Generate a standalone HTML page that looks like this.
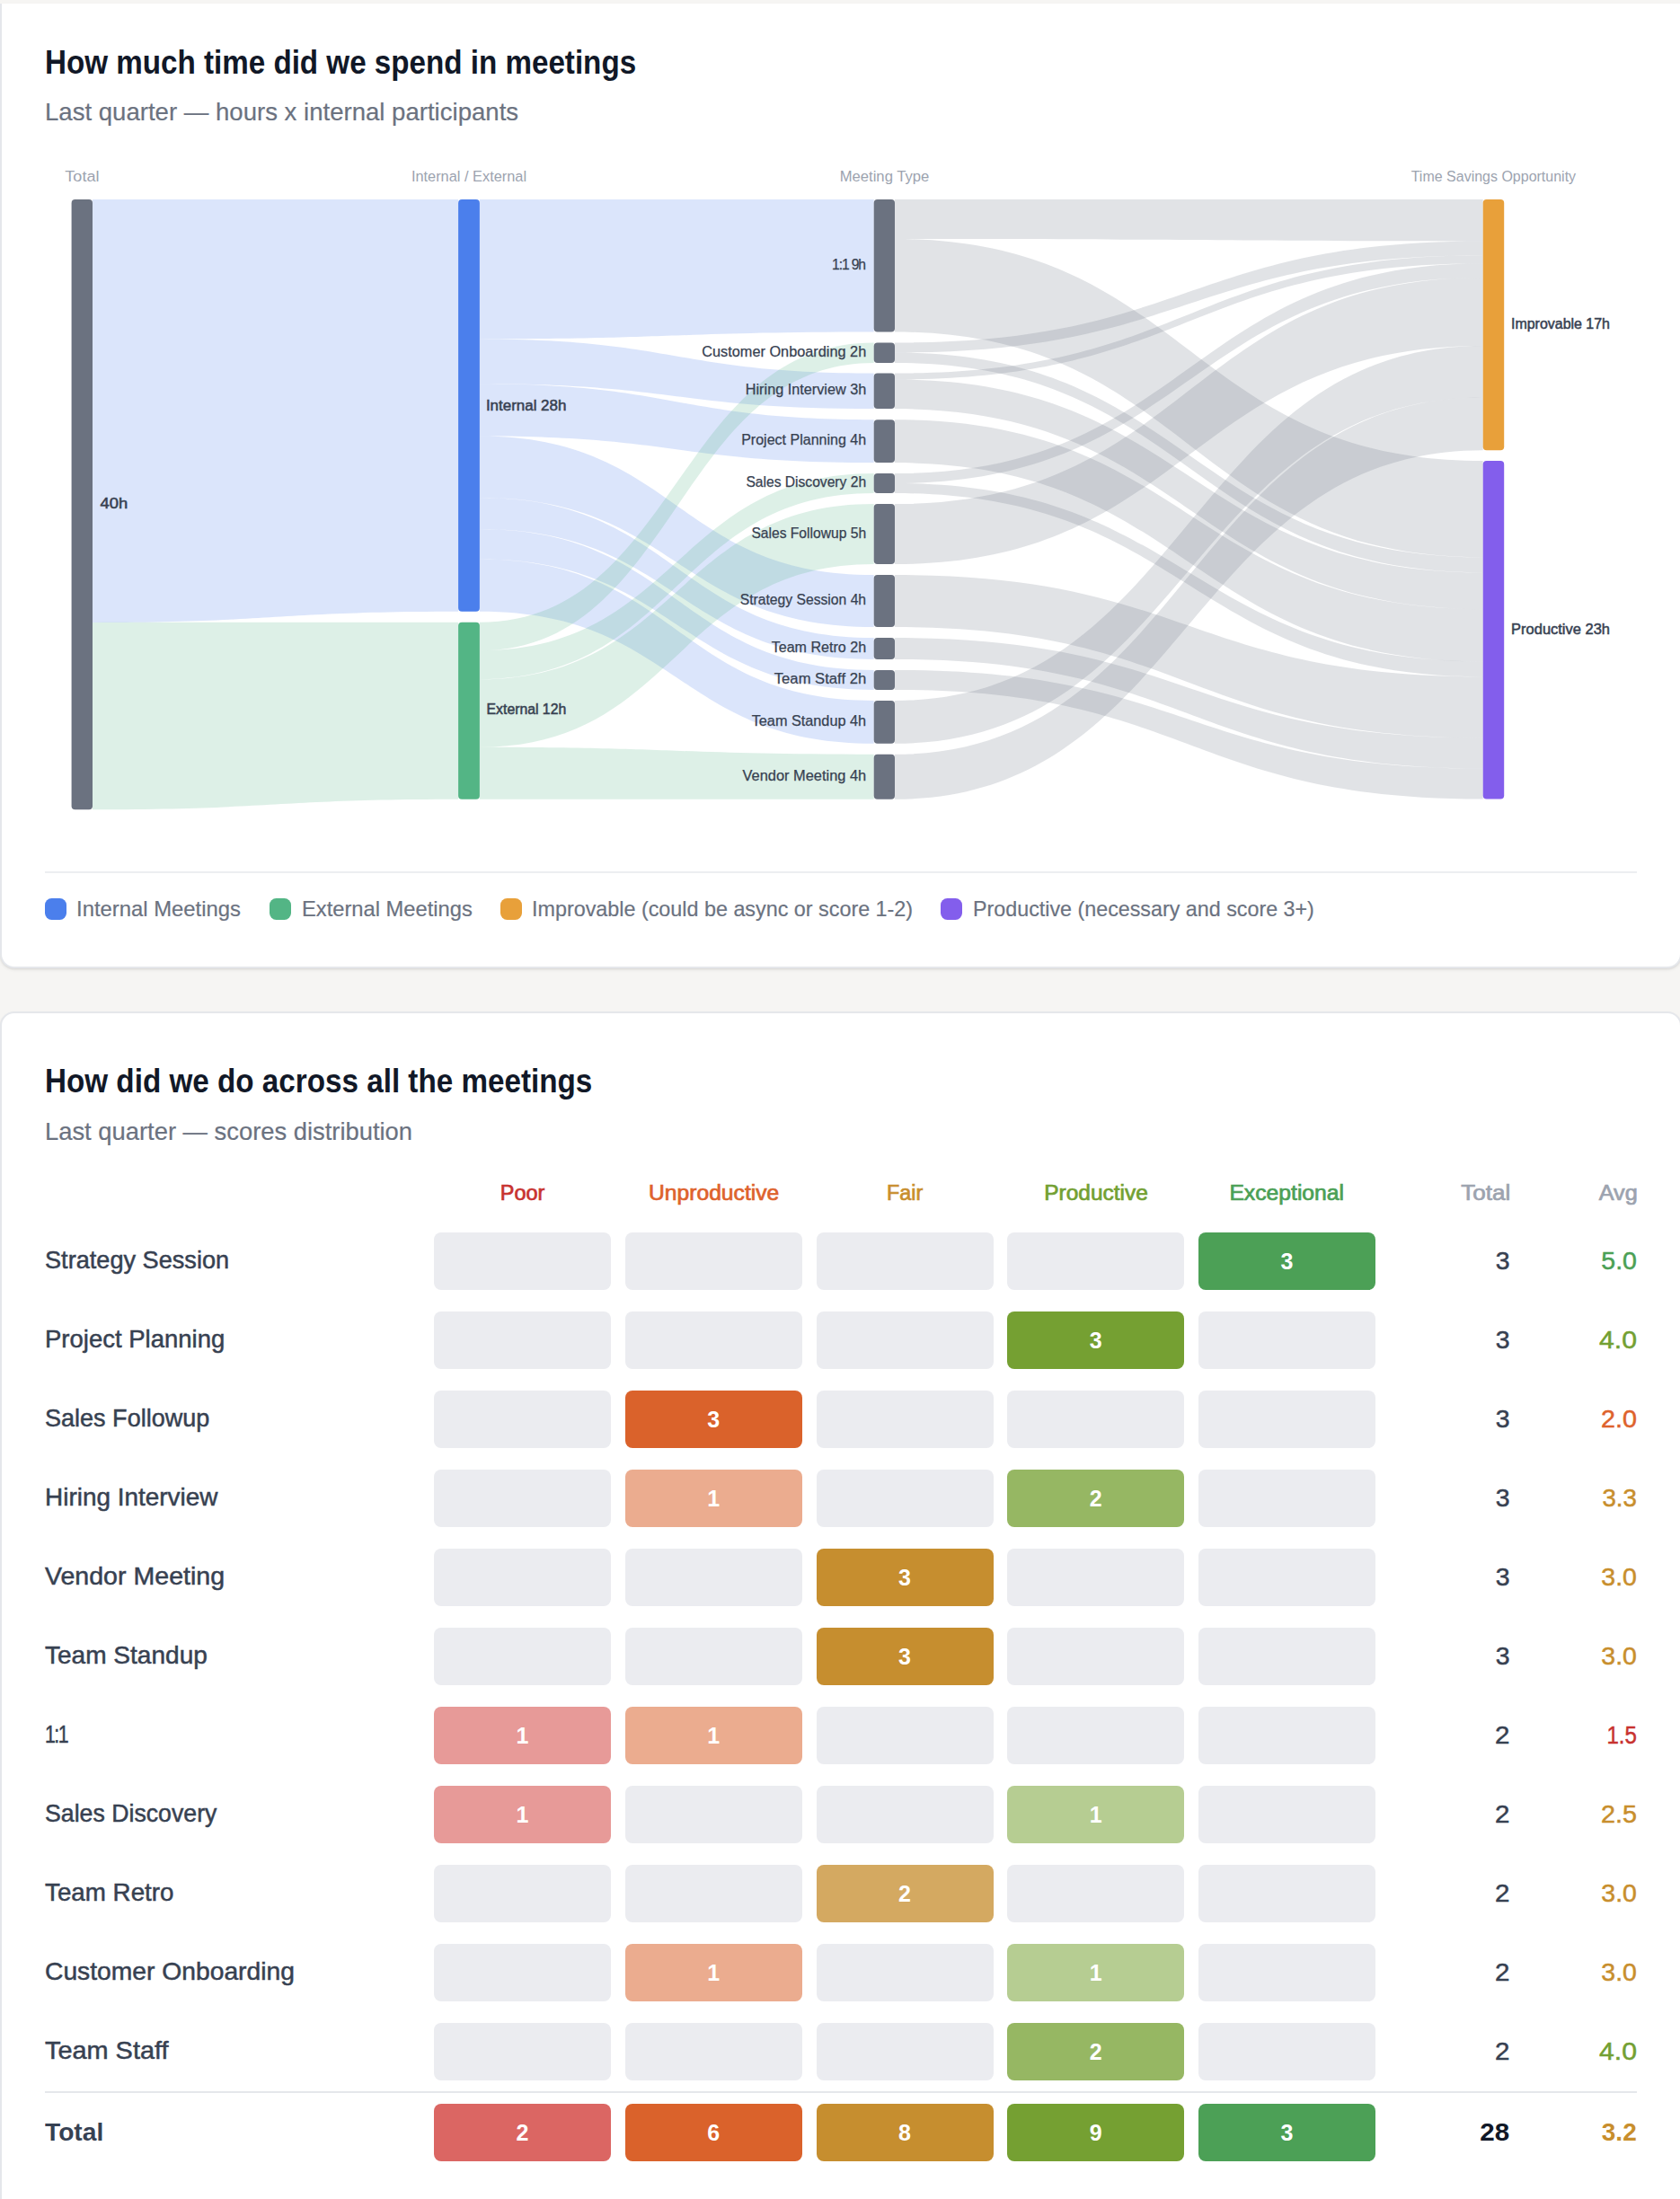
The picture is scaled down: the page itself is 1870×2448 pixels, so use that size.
<!DOCTYPE html>
<html lang="en"><head><meta charset="utf-8"><meta name="viewport" content="width=1870"><title>Meeting insights</title>
<style>
html,body{margin:0;padding:0}
body{width:1870px;height:2448px;overflow:hidden;background:#f6f5f3;font-family:"Liberation Sans", sans-serif;position:relative}
.card{position:absolute;left:0;width:1872px;box-sizing:border-box;background:#fff;border:2px solid #e5e7eb;box-shadow:0 2px 4px -1px rgba(0,0,0,.1),0 1px 2px rgba(0,0,0,.06)}
#c1{top:4px;height:1074px;border-top:none;border-radius:0 0 16px 16px}
#c2{top:1126px;height:1400px;border-radius:16px 16px 0 0}
.t{position:absolute;white-space:nowrap;display:block;margin:0}
.in{position:absolute;width:1870px;height:10px}
.m{-webkit-text-stroke:.5px currentColor}
.m2{-webkit-text-stroke:.7px currentColor}
svg .m{stroke:#374151;stroke-width:.5px}
svg .r{stroke:#374151;stroke-width:.25px}
.sankey{position:absolute;left:0;top:0;font-family:"Liberation Sans", sans-serif}
.hr{position:absolute;left:50px;width:1772px;height:2px;background:#eceef1}
.sw{position:absolute;width:24px;height:24px;border-radius:7.5px;top:1000px}
.l{-webkit-text-stroke:.2px currentColor}
.cell{position:absolute;width:197px;height:64px;border-radius:8px;background:#ebecf0;color:#fff;font-weight:700;font-size:25px;line-height:64px;text-align:center}
</style></head><body>

<main>
<section class="card" id="c1"><div class="in" style="left:-2px;top:-4px">
<h2 class="t " style="font-size:36.0px;line-height:36.0px;font-weight:700;color:#111827;top:52.13px;left:49.83px;transform-origin:0 50%;transform:scaleX(0.9216);">How much time did we spend in meetings</h2>
<p class="t l" style="font-size:28.0px;line-height:28.0px;font-weight:400;color:#6b7280;top:111.20px;left:49.69px;transform-origin:0 50%;transform:scaleX(0.9845);">Last quarter — hours x internal participants</p>
<svg class="sankey" role="img" aria-label="Sankey chart of meeting hours" width="1870" height="960" viewBox="0 0 1870 960"><g class="links"><path d="M103.0,222.0C306.6,222.0 306.6,222.0 510.1,222.0L510.1,680.7C306.6,680.7 306.6,692.9 103.0,692.9Z" fill="#4b7fec" fill-opacity="0.2"/><path d="M103.0,692.9C306.6,692.9 306.6,692.8 510.1,692.8L510.1,889.8C306.6,889.8 306.6,901.2 103.0,901.2Z" fill="#53b585" fill-opacity="0.2"/><path d="M533.9,222.0C753.3,222.0 753.3,222.0 972.7,222.0L972.7,369.5C753.3,369.5 753.3,377.4 533.9,377.4Z" fill="#4b7fec" fill-opacity="0.2"/><path d="M533.9,377.4C753.3,377.4 753.3,415.5 972.7,415.5L972.7,455.1C753.3,455.1 753.3,427.2 533.9,427.2Z" fill="#4b7fec" fill-opacity="0.2"/><path d="M533.9,427.2C753.3,427.2 753.3,467.2 972.7,467.2L972.7,515.1C753.3,515.1 753.3,485.6 533.9,485.6Z" fill="#4b7fec" fill-opacity="0.2"/><path d="M533.9,485.6C753.3,485.6 753.3,640.1 972.7,640.1L972.7,698.1C753.3,698.1 753.3,554.1 533.9,554.1Z" fill="#4b7fec" fill-opacity="0.2"/><path d="M533.9,554.1C753.3,554.1 753.3,710.1 972.7,710.1L972.7,733.9C753.3,733.9 753.3,589.1 533.9,589.1Z" fill="#4b7fec" fill-opacity="0.2"/><path d="M533.9,589.1C753.3,589.1 753.3,745.9 972.7,745.9L972.7,767.9C753.3,767.9 753.3,622.5 533.9,622.5Z" fill="#4b7fec" fill-opacity="0.2"/><path d="M533.9,622.5C753.3,622.5 753.3,779.9 972.7,779.9L972.7,827.8C753.3,827.8 753.3,680.7 533.9,680.7Z" fill="#4b7fec" fill-opacity="0.2"/><path d="M533.9,692.8C753.3,692.8 753.3,381.5 972.7,381.5L972.7,403.9C753.3,403.9 753.3,724.3 533.9,724.3Z" fill="#53b585" fill-opacity="0.2"/><path d="M533.9,724.3C753.3,724.3 753.3,527.1 972.7,527.1L972.7,549.1C753.3,549.1 753.3,756.2 533.9,756.2Z" fill="#53b585" fill-opacity="0.2"/><path d="M533.9,756.2C753.3,756.2 753.3,561.1 972.7,561.1L972.7,628.1C753.3,628.1 753.3,831.8 533.9,831.8Z" fill="#53b585" fill-opacity="0.2"/><path d="M533.9,831.8C753.3,831.8 753.3,839.8 972.7,839.8L972.7,889.8C753.3,889.8 753.3,889.8 533.9,889.8Z" fill="#53b585" fill-opacity="0.2"/><path d="M996.0,222.0C1323.3,222.0 1323.3,222.0 1650.7,222.0L1650.7,268.4C1323.3,268.4 1323.3,266.0 996.0,266.0Z" fill="#6b7280" fill-opacity="0.2"/><path d="M996.0,266.0C1323.3,266.0 1323.3,513.1 1650.7,513.1L1650.7,620.4C1323.3,620.4 1323.3,369.5 996.0,369.5Z" fill="#6b7280" fill-opacity="0.2"/><path d="M996.0,381.5C1323.3,381.5 1323.3,268.4 1650.7,268.4L1650.7,284.3C1323.3,284.3 1323.3,392.5 996.0,392.5Z" fill="#6b7280" fill-opacity="0.2"/><path d="M996.0,392.5C1323.3,392.5 1323.3,620.4 1650.7,620.4L1650.7,637.3C1323.3,637.3 1323.3,403.9 996.0,403.9Z" fill="#6b7280" fill-opacity="0.2"/><path d="M996.0,415.5C1323.3,415.5 1323.3,284.3 1650.7,284.3L1650.7,293.2C1323.3,293.2 1323.3,422.5 996.0,422.5Z" fill="#6b7280" fill-opacity="0.2"/><path d="M996.0,422.5C1323.3,422.5 1323.3,637.3 1650.7,637.3L1650.7,678.2C1323.3,678.2 1323.3,455.1 996.0,455.1Z" fill="#6b7280" fill-opacity="0.2"/><path d="M996.0,467.2C1323.3,467.2 1323.3,678.2 1650.7,678.2L1650.7,736.4C1323.3,736.4 1323.3,515.1 996.0,515.1Z" fill="#6b7280" fill-opacity="0.2"/><path d="M996.0,527.1C1323.3,527.1 1323.3,293.2 1650.7,293.2L1650.7,309.0C1323.3,309.0 1323.3,538.0 996.0,538.0Z" fill="#6b7280" fill-opacity="0.2"/><path d="M996.0,538.0C1323.3,538.0 1323.3,736.4 1650.7,736.4L1650.7,753.3C1323.3,753.3 1323.3,549.1 996.0,549.1Z" fill="#6b7280" fill-opacity="0.2"/><path d="M996.0,561.1C1323.3,561.1 1323.3,309.0 1650.7,309.0L1650.7,385.0C1323.3,385.0 1323.3,628.1 996.0,628.1Z" fill="#6b7280" fill-opacity="0.2"/><path d="M996.0,640.1C1323.3,640.1 1323.3,753.3 1650.7,753.3L1650.7,821.5C1323.3,821.5 1323.3,698.1 996.0,698.1Z" fill="#6b7280" fill-opacity="0.2"/><path d="M996.0,710.1C1323.3,710.1 1323.3,821.5 1650.7,821.5L1650.7,855.5C1323.3,855.5 1323.3,733.9 996.0,733.9Z" fill="#6b7280" fill-opacity="0.2"/><path d="M996.0,745.9C1323.3,745.9 1323.3,855.5 1650.7,855.5L1650.7,889.6C1323.3,889.6 1323.3,767.9 996.0,767.9Z" fill="#6b7280" fill-opacity="0.2"/><path d="M996.0,779.9C1323.3,779.9 1323.3,385.0 1650.7,385.0L1650.7,442.4C1323.3,442.4 1323.3,827.8 996.0,827.8Z" fill="#6b7280" fill-opacity="0.2"/><path d="M996.0,839.8C1323.3,839.8 1323.3,442.4 1650.7,442.4L1650.7,501.3C1323.3,501.3 1323.3,889.8 996.0,889.8Z" fill="#6b7280" fill-opacity="0.2"/></g><g class="nodes"><rect x="79.6" y="222.0" width="23.4" height="679.2" rx="4" fill="#6b7280"/><rect x="510.1" y="222.0" width="23.8" height="458.7" rx="4" fill="#4b7fec"/><rect x="510.1" y="692.8" width="23.8" height="197.0" rx="4" fill="#53b585"/><rect x="1650.7" y="222.0" width="23.5" height="279.3" rx="4" fill="#e8a03a"/><rect x="1650.7" y="513.1" width="23.5" height="376.5" rx="4" fill="#835eec"/><rect x="972.7" y="222.0" width="23.3" height="147.5" rx="4" fill="#6b7280"/><rect x="972.7" y="381.5" width="23.3" height="22.4" rx="4" fill="#6b7280"/><rect x="972.7" y="415.5" width="23.3" height="39.6" rx="4" fill="#6b7280"/><rect x="972.7" y="467.2" width="23.3" height="47.9" rx="4" fill="#6b7280"/><rect x="972.7" y="527.1" width="23.3" height="22.0" rx="4" fill="#6b7280"/><rect x="972.7" y="561.1" width="23.3" height="67.0" rx="4" fill="#6b7280"/><rect x="972.7" y="640.1" width="23.3" height="58.0" rx="4" fill="#6b7280"/><rect x="972.7" y="710.1" width="23.3" height="23.8" rx="4" fill="#6b7280"/><rect x="972.7" y="745.9" width="23.3" height="22.0" rx="4" fill="#6b7280"/><rect x="972.7" y="779.9" width="23.3" height="47.9" rx="4" fill="#6b7280"/><rect x="972.7" y="839.8" width="23.3" height="50.0" rx="4" fill="#6b7280"/></g><g class="labels"><text x="91.4" y="202.0" font-size="15.68" fill="#9ca3af" font-weight="400" text-anchor="middle" textLength="38.1" lengthAdjust="spacingAndGlyphs">Total</text><text x="522.0" y="202.0" font-size="15.68" fill="#9ca3af" font-weight="400" text-anchor="middle" textLength="128.2" lengthAdjust="spacingAndGlyphs">Internal / External</text><text x="984.5" y="202.0" font-size="15.68" fill="#9ca3af" font-weight="400" text-anchor="middle" textLength="99.7" lengthAdjust="spacingAndGlyphs">Meeting Type</text><text x="1662.4" y="202.0" font-size="15.68" fill="#9ca3af" font-weight="400" text-anchor="middle" textLength="183.4" lengthAdjust="spacingAndGlyphs">Time Savings Opportunity</text><text x="111.6" y="565.8" font-size="15.68" fill="#374151" font-weight="400" text-anchor="start" textLength="30.6" lengthAdjust="spacingAndGlyphs" class="m">40h</text><text x="540.9" y="456.8" font-size="15.68" fill="#374151" font-weight="400" text-anchor="start" textLength="89.5" lengthAdjust="spacingAndGlyphs" class="m">Internal 28h</text><text x="541.6" y="795.0" font-size="15.68" fill="#374151" font-weight="400" text-anchor="start" textLength="88.6" lengthAdjust="spacingAndGlyphs" class="m">External 12h</text><text x="1682.0" y="365.9" font-size="15.68" fill="#374151" font-weight="400" text-anchor="start" textLength="110.0" lengthAdjust="spacingAndGlyphs" class="m">Improvable 17h</text><text x="1682.1" y="705.5" font-size="15.68" fill="#374151" font-weight="400" text-anchor="start" textLength="109.9" lengthAdjust="spacingAndGlyphs" class="m">Productive 23h</text><text x="964.0" y="299.6" font-size="15.68" fill="#374151" font-weight="400" text-anchor="end" textLength="37.9" lengthAdjust="spacing" class="r">1:1 9h</text><text x="964.2" y="396.6" font-size="15.68" fill="#374151" font-weight="400" text-anchor="end" textLength="182.9" lengthAdjust="spacingAndGlyphs" class="r">Customer Onboarding 2h</text><text x="964.2" y="439.2" font-size="15.68" fill="#374151" font-weight="400" text-anchor="end" textLength="134.4" lengthAdjust="spacingAndGlyphs" class="r">Hiring Interview 3h</text><text x="964.1" y="495.0" font-size="15.68" fill="#374151" font-weight="400" text-anchor="end" textLength="138.9" lengthAdjust="spacingAndGlyphs" class="r">Project Planning 4h</text><text x="964.1" y="542.0" font-size="15.68" fill="#374151" font-weight="400" text-anchor="end" textLength="133.7" lengthAdjust="spacingAndGlyphs" class="r">Sales Discovery 2h</text><text x="964.1" y="598.5" font-size="15.68" fill="#374151" font-weight="400" text-anchor="end" textLength="127.7" lengthAdjust="spacingAndGlyphs" class="r">Sales Followup 5h</text><text x="964.1" y="673.0" font-size="15.68" fill="#374151" font-weight="400" text-anchor="end" textLength="140.4" lengthAdjust="spacingAndGlyphs" class="r">Strategy Session 4h</text><text x="964.1" y="725.9" font-size="15.68" fill="#374151" font-weight="400" text-anchor="end" textLength="105.4" lengthAdjust="spacingAndGlyphs" class="r">Team Retro 2h</text><text x="964.2" y="760.8" font-size="15.68" fill="#374151" font-weight="400" text-anchor="end" textLength="102.4" lengthAdjust="spacingAndGlyphs" class="r">Team Staff 2h</text><text x="964.1" y="807.7" font-size="15.68" fill="#374151" font-weight="400" text-anchor="end" textLength="127.4" lengthAdjust="spacingAndGlyphs" class="r">Team Standup 4h</text><text x="964.2" y="868.7" font-size="15.68" fill="#374151" font-weight="400" text-anchor="end" textLength="137.6" lengthAdjust="spacingAndGlyphs" class="r">Vendor Meeting 4h</text></g></svg>
<div class="hr" style="top:970px"></div>
<i class="sw" style="left:50px;background:#4b7fec"></i>
<span class="t l" style="font-size:24.0px;line-height:24.0px;font-weight:400;color:#6b7280;top:999.88px;left:85.40px;transform-origin:0 50%;transform:scaleX(0.9938);">Internal Meetings</span>
<i class="sw" style="left:300px;background:#53b585"></i>
<span class="t l" style="font-size:24.0px;line-height:24.0px;font-weight:400;color:#6b7280;top:999.88px;left:335.85px;transform-origin:0 50%;transform:scaleX(0.9881);">External Meetings</span>
<i class="sw" style="left:556.7px;background:#e8a03a"></i>
<span class="t l" style="font-size:24.0px;line-height:24.0px;font-weight:400;color:#6b7280;top:999.88px;left:592.15px;transform-origin:0 50%;transform:scaleX(0.9723);">Improvable (could be async or score 1-2)</span>
<i class="sw" style="left:1047.2px;background:#835eec"></i>
<span class="t l" style="font-size:24.0px;line-height:24.0px;font-weight:400;color:#6b7280;top:999.88px;left:1083.09px;transform-origin:0 50%;transform:scaleX(0.9702);">Productive (necessary and score 3+)</span>
</div></section>
<section class="card" id="c2"><div class="in" style="left:-2px;top:-1128px">
<h2 class="t " style="font-size:36.0px;line-height:36.0px;font-weight:700;color:#111827;top:1186.03px;left:49.82px;transform-origin:0 50%;transform:scaleX(0.9230);">How did we do across all the meetings</h2>
<p class="t l" style="font-size:28.0px;line-height:28.0px;font-weight:400;color:#6b7280;top:1246.10px;left:49.71px;transform-origin:0 50%;transform:scaleX(0.9771);">Last quarter — scores distribution</p>
<span class="t m2" style="font-size:23.3px;line-height:23.3px;font-weight:400;color:#c8322f;top:1316.68px;left:556.89px;transform-origin:50% 50%;transform:scaleX(1.0060);">Poor</span>
<span class="t m2" style="font-size:23.3px;line-height:23.3px;font-weight:400;color:#de622c;top:1316.68px;left:725.61px;transform-origin:50% 50%;transform:scaleX(1.0577);">Unproductive</span>
<span class="t m2" style="font-size:23.3px;line-height:23.3px;font-weight:400;color:#c88e2d;top:1316.68px;left:986.94px;transform-origin:50% 50%;transform:scaleX(1.0019);">Fair</span>
<span class="t m2" style="font-size:23.3px;line-height:23.3px;font-weight:400;color:#73a032;top:1316.68px;left:1164.71px;transform-origin:50% 50%;transform:scaleX(1.0501);">Productive</span>
<span class="t m2" style="font-size:23.3px;line-height:23.3px;font-weight:400;color:#4ba055;top:1316.68px;left:1372.27px;transform-origin:50% 50%;transform:scaleX(1.0600);">Exceptional</span>
<span class="t m2" style="font-size:23.3px;line-height:23.3px;font-weight:400;color:#9ca3af;top:1316.68px;right:188.66px;transform-origin:100% 50%;transform:scaleX(1.1159);">Total</span>
<span class="t m2" style="font-size:23.3px;line-height:23.3px;font-weight:400;color:#9ca3af;top:1316.68px;right:47.07px;transform-origin:100% 50%;transform:scaleX(1.0841);">Avg</span>
<span class="t m" style="font-size:28.0px;line-height:28.0px;font-weight:400;color:#374151;top:1389.10px;left:49.85px;transform-origin:0 50%;transform:scaleX(0.9690);">Strategy Session</span>
<div class="cell" style="left:483px;top:1372px"></div>
<div class="cell" style="left:695.75px;top:1372px"></div>
<div class="cell" style="left:908.5px;top:1372px"></div>
<div class="cell" style="left:1121.25px;top:1372px"></div>
<div class="cell" style="left:1334px;top:1372px;background:#4ca056">3</div>
<span class="t m" style="font-size:28.0px;line-height:28.0px;font-weight:400;color:#374151;top:1389.90px;right:189.45px;transform-origin:100% 50%;transform:scaleX(1.0165);">3</span>
<span class="t m" style="font-size:28.0px;line-height:28.0px;font-weight:400;color:#4ba055;top:1389.90px;right:48.29px;transform-origin:100% 50%;transform:scaleX(1.0184);">5.0</span>
<span class="t m" style="font-size:28.0px;line-height:28.0px;font-weight:400;color:#374151;top:1477.10px;left:49.70px;transform-origin:0 50%;transform:scaleX(0.9822);">Project Planning</span>
<div class="cell" style="left:483px;top:1460px"></div>
<div class="cell" style="left:695.75px;top:1460px"></div>
<div class="cell" style="left:908.5px;top:1460px"></div>
<div class="cell" style="left:1121.25px;top:1460px;background:#75a032">3</div>
<div class="cell" style="left:1334px;top:1460px"></div>
<span class="t m" style="font-size:28.0px;line-height:28.0px;font-weight:400;color:#374151;top:1477.90px;right:189.45px;transform-origin:100% 50%;transform:scaleX(1.0165);">3</span>
<span class="t m" style="font-size:28.0px;line-height:28.0px;font-weight:400;color:#73a032;top:1477.90px;right:48.22px;transform-origin:100% 50%;transform:scaleX(1.0779);">4.0</span>
<span class="t m" style="font-size:28.0px;line-height:28.0px;font-weight:400;color:#374151;top:1565.10px;left:49.85px;transform-origin:0 50%;transform:scaleX(0.9653);">Sales Followup</span>
<div class="cell" style="left:483px;top:1548px"></div>
<div class="cell" style="left:695.75px;top:1548px;background:#da622b">3</div>
<div class="cell" style="left:908.5px;top:1548px"></div>
<div class="cell" style="left:1121.25px;top:1548px"></div>
<div class="cell" style="left:1334px;top:1548px"></div>
<span class="t m" style="font-size:28.0px;line-height:28.0px;font-weight:400;color:#374151;top:1565.90px;right:189.45px;transform-origin:100% 50%;transform:scaleX(1.0165);">3</span>
<span class="t m" style="font-size:28.0px;line-height:28.0px;font-weight:400;color:#de622c;top:1565.90px;right:48.28px;transform-origin:100% 50%;transform:scaleX(1.0265);">2.0</span>
<span class="t m" style="font-size:28.0px;line-height:28.0px;font-weight:400;color:#374151;top:1653.10px;left:49.66px;transform-origin:0 50%;transform:scaleX(0.9975);">Hiring Interview</span>
<div class="cell" style="left:483px;top:1636px"></div>
<div class="cell" style="left:695.75px;top:1636px;background:#ebac8f">1</div>
<div class="cell" style="left:908.5px;top:1636px"></div>
<div class="cell" style="left:1121.25px;top:1636px;background:#96b763">2</div>
<div class="cell" style="left:1334px;top:1636px"></div>
<span class="t m" style="font-size:28.0px;line-height:28.0px;font-weight:400;color:#374151;top:1653.90px;right:189.45px;transform-origin:100% 50%;transform:scaleX(1.0165);">3</span>
<span class="t m" style="font-size:28.0px;line-height:28.0px;font-weight:400;color:#c88e2d;top:1653.90px;right:48.18px;transform-origin:100% 50%;transform:scaleX(0.9880);">3.3</span>
<span class="t m" style="font-size:28.0px;line-height:28.0px;font-weight:400;color:#374151;top:1741.10px;left:49.98px;transform-origin:0 50%;transform:scaleX(1.0200);">Vendor Meeting</span>
<div class="cell" style="left:483px;top:1724px"></div>
<div class="cell" style="left:695.75px;top:1724px"></div>
<div class="cell" style="left:908.5px;top:1724px;background:#c68e2f">3</div>
<div class="cell" style="left:1121.25px;top:1724px"></div>
<div class="cell" style="left:1334px;top:1724px"></div>
<span class="t m" style="font-size:28.0px;line-height:28.0px;font-weight:400;color:#374151;top:1741.90px;right:189.45px;transform-origin:100% 50%;transform:scaleX(1.0165);">3</span>
<span class="t m" style="font-size:28.0px;line-height:28.0px;font-weight:400;color:#c88e2d;top:1741.90px;right:48.29px;transform-origin:100% 50%;transform:scaleX(1.0169);">3.0</span>
<span class="t m" style="font-size:28.0px;line-height:28.0px;font-weight:400;color:#374151;top:1829.10px;left:49.90px;transform-origin:0 50%;transform:scaleX(1.0016);">Team Standup</span>
<div class="cell" style="left:483px;top:1812px"></div>
<div class="cell" style="left:695.75px;top:1812px"></div>
<div class="cell" style="left:908.5px;top:1812px;background:#c68e2f">3</div>
<div class="cell" style="left:1121.25px;top:1812px"></div>
<div class="cell" style="left:1334px;top:1812px"></div>
<span class="t m" style="font-size:28.0px;line-height:28.0px;font-weight:400;color:#374151;top:1829.90px;right:189.45px;transform-origin:100% 50%;transform:scaleX(1.0165);">3</span>
<span class="t m" style="font-size:28.0px;line-height:28.0px;font-weight:400;color:#c88e2d;top:1829.90px;right:48.29px;transform-origin:100% 50%;transform:scaleX(1.0169);">3.0</span>
<span class="t m" style="font-size:28px;line-height:28px;color:#374151;top:1917.10px;left:49.9px;letter-spacing:-2px;transform-origin:0 50%;transform:scaleX(.76)">1:1</span>
<div class="cell" style="left:483px;top:1900px;background:#e79a98">1</div>
<div class="cell" style="left:695.75px;top:1900px;background:#ebac8f">1</div>
<div class="cell" style="left:908.5px;top:1900px"></div>
<div class="cell" style="left:1121.25px;top:1900px"></div>
<div class="cell" style="left:1334px;top:1900px"></div>
<span class="t m" style="font-size:28.0px;line-height:28.0px;font-weight:400;color:#374151;top:1917.90px;right:189.21px;transform-origin:100% 50%;transform:scaleX(1.0579);">2</span>
<span class="t m" style="font-size:28.0px;line-height:28.0px;font-weight:400;color:#c8322f;top:1917.90px;right:48.39px;transform-origin:100% 50%;transform:scaleX(0.8617);">1.5</span>
<span class="t m" style="font-size:28.0px;line-height:28.0px;font-weight:400;color:#374151;top:2005.10px;left:49.87px;transform-origin:0 50%;transform:scaleX(0.9534);">Sales Discovery</span>
<div class="cell" style="left:483px;top:1988px;background:#e79a98">1</div>
<div class="cell" style="left:695.75px;top:1988px"></div>
<div class="cell" style="left:908.5px;top:1988px"></div>
<div class="cell" style="left:1121.25px;top:1988px;background:#b6cd92">1</div>
<div class="cell" style="left:1334px;top:1988px"></div>
<span class="t m" style="font-size:28.0px;line-height:28.0px;font-weight:400;color:#374151;top:2005.90px;right:189.21px;transform-origin:100% 50%;transform:scaleX(1.0579);">2</span>
<span class="t m" style="font-size:28.0px;line-height:28.0px;font-weight:400;color:#c88e2d;top:2005.90px;right:48.19px;transform-origin:100% 50%;transform:scaleX(1.0288);">2.5</span>
<span class="t m" style="font-size:28.0px;line-height:28.0px;font-weight:400;color:#374151;top:2093.10px;left:49.91px;transform-origin:0 50%;transform:scaleX(0.9913);">Team Retro</span>
<div class="cell" style="left:483px;top:2076px"></div>
<div class="cell" style="left:695.75px;top:2076px"></div>
<div class="cell" style="left:908.5px;top:2076px;background:#d4a961">2</div>
<div class="cell" style="left:1121.25px;top:2076px"></div>
<div class="cell" style="left:1334px;top:2076px"></div>
<span class="t m" style="font-size:28.0px;line-height:28.0px;font-weight:400;color:#374151;top:2093.90px;right:189.21px;transform-origin:100% 50%;transform:scaleX(1.0579);">2</span>
<span class="t m" style="font-size:28.0px;line-height:28.0px;font-weight:400;color:#c88e2d;top:2093.90px;right:48.29px;transform-origin:100% 50%;transform:scaleX(1.0169);">3.0</span>
<span class="t m" style="font-size:28.0px;line-height:28.0px;font-weight:400;color:#374151;top:2181.10px;left:49.77px;transform-origin:0 50%;transform:scaleX(1.0089);">Customer Onboarding</span>
<div class="cell" style="left:483px;top:2164px"></div>
<div class="cell" style="left:695.75px;top:2164px;background:#ebac8f">1</div>
<div class="cell" style="left:908.5px;top:2164px"></div>
<div class="cell" style="left:1121.25px;top:2164px;background:#b6cd92">1</div>
<div class="cell" style="left:1334px;top:2164px"></div>
<span class="t m" style="font-size:28.0px;line-height:28.0px;font-weight:400;color:#374151;top:2181.90px;right:189.21px;transform-origin:100% 50%;transform:scaleX(1.0579);">2</span>
<span class="t m" style="font-size:28.0px;line-height:28.0px;font-weight:400;color:#c88e2d;top:2181.90px;right:48.29px;transform-origin:100% 50%;transform:scaleX(1.0169);">3.0</span>
<span class="t m" style="font-size:28.0px;line-height:28.0px;font-weight:400;color:#374151;top:2269.10px;left:49.89px;transform-origin:0 50%;transform:scaleX(1.0311);">Team Staff</span>
<div class="cell" style="left:483px;top:2252px"></div>
<div class="cell" style="left:695.75px;top:2252px"></div>
<div class="cell" style="left:908.5px;top:2252px"></div>
<div class="cell" style="left:1121.25px;top:2252px;background:#96b763">2</div>
<div class="cell" style="left:1334px;top:2252px"></div>
<span class="t m" style="font-size:28.0px;line-height:28.0px;font-weight:400;color:#374151;top:2269.90px;right:189.21px;transform-origin:100% 50%;transform:scaleX(1.0579);">2</span>
<span class="t m" style="font-size:28.0px;line-height:28.0px;font-weight:400;color:#73a032;top:2269.90px;right:48.22px;transform-origin:100% 50%;transform:scaleX(1.0779);">4.0</span>
<div class="hr" style="top:2328px;background:#e5e7eb"></div>
<span class="t " style="font-size:28.0px;line-height:28.0px;font-weight:700;color:#364153;top:2360.10px;left:49.95px;transform-origin:0 50%;transform:scaleX(1.0067);">Total</span>
<div class="cell" style="left:483px;top:2342px;background:#db6663">2</div>
<div class="cell" style="left:695.75px;top:2342px;background:#da622b">6</div>
<div class="cell" style="left:908.5px;top:2342px;background:#c68e2f">8</div>
<div class="cell" style="left:1121.25px;top:2342px;background:#75a032">9</div>
<div class="cell" style="left:1334px;top:2342px;background:#4ca056">3</div>
<span class="t " style="font-size:28.0px;line-height:28.0px;font-weight:700;color:#111827;top:2359.90px;right:189.79px;transform-origin:100% 50%;transform:scaleX(1.0571);">28</span>
<span class="t " style="font-size:28.0px;line-height:28.0px;font-weight:700;color:#c88e2d;top:2359.90px;right:48.28px;transform-origin:100% 50%;">3.2</span>
</div></section>
</main></body></html>
